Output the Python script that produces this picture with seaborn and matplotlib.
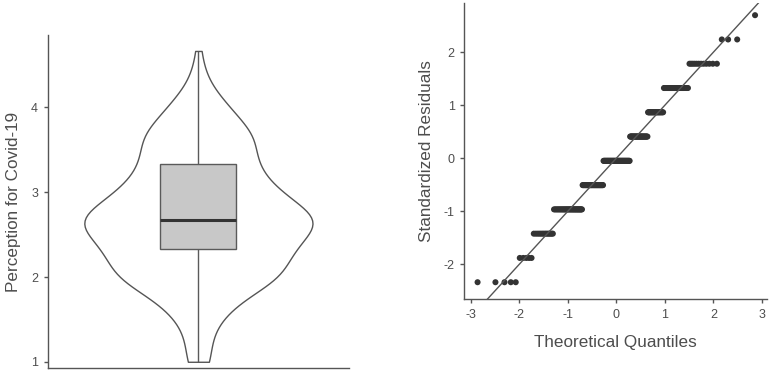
import numpy as np
import pandas as pd
import matplotlib
matplotlib.use("Agg")
import matplotlib.pyplot as plt
import seaborn as sns
from statistics import NormalDist

# Perception scores (mean of three items) and how many respondents gave each score
score_levels = [1.0, 4/3, 5/3, 2.0, 7/3, 8/3, 3.0, 10/3, 11/3, 4.0, 13/3, 14/3]
score_counts = [5, 5, 13, 34, 36, 51, 31, 22, 23, 12, 3, 1]

y_ticks_left = [1, 2, 3, 4]
qq_ticks_x = [-3, -2, -1, 0, 1, 2, 3]
qq_ticks_y = [-2, -1, 0, 1, 2]

scores = np.repeat(score_levels, score_counts)
df = pd.DataFrame({"Perception for Covid-19": scores})

# Standardized residuals against normal theoretical quantiles
resid = np.sort((scores - scores.mean()) / scores.std(ddof=1))
n = len(resid)
probs = (np.arange(1, n + 1) - 0.5) / n
theo = np.array([NormalDist().inv_cdf(p) for p in probs])
qq = pd.DataFrame({"Theoretical Quantiles": theo, "Standardized Residuals": resid})

sns.set_theme(style="ticks")
plt.rcParams["font.family"] = ["Liberation Sans", "DejaVu Sans"]
plt.rcParams["axes.unicode_minus"] = False

INK = "#555555"
TEXT = "#4d4d4d"

fig = plt.figure(figsize=(7.69, 3.78), dpi=100)
ax1 = fig.add_axes([0.062, 0.027, 0.392, 0.880])
ax2 = fig.add_axes([0.604, 0.209, 0.393, 0.784])

# Left: violin with box plot inside
sns.violinplot(data=df, y="Perception for Covid-19", ax=ax1, cut=0, bw_adjust=0.9,
               inner=None, width=0.757, color="white", linecolor=INK, linewidth=1.0,
               saturation=1)
sns.boxplot(data=df, y="Perception for Covid-19", ax=ax1, width=0.252, color="#c8c8c8",
            linecolor="#5a5a5a", linewidth=1.0, showcaps=False, fliersize=0,
            saturation=1, whis=1.5,
            medianprops={"color": "#333333", "linewidth": 2.2})
ax1.set_xlim(-0.5, 0.5)
ax1.set_ylim(0.929, 4.853)
ax1.set_yticks(y_ticks_left)
ax1.set_xticks([])
ax1.set_xlabel("")
ax1.set_ylabel("Perception for Covid-19", fontsize=12.3, color=TEXT, labelpad=7)
sns.despine(ax=ax1)

# Right: normal Q-Q plot of residuals
sns.scatterplot(data=qq, x="Theoretical Quantiles", y="Standardized Residuals", ax=ax2,
                color="#333333", s=19, edgecolor="none", linewidth=0)
lim = np.array([-3.5, 3.5])
ax2.plot(lim, lim, color=INK, linewidth=1.0, zorder=1)
ax2.set_xlim(-3.13, 3.10)
ax2.set_ylim(-2.655, 2.936)
ax2.set_xticks(qq_ticks_x)
ax2.set_yticks(qq_ticks_y)
ax2.set_xlabel("Theoretical Quantiles", fontsize=12.3, color=TEXT, labelpad=10)
ax2.set_ylabel("Standardized Residuals", fontsize=12.3, color=TEXT, labelpad=7)
sns.despine(ax=ax2)

for ax in (ax1, ax2):
    for sp in ("left", "bottom"):
        ax.spines[sp].set_color(INK)
        ax.spines[sp].set_linewidth(1.0)
    ax.tick_params(colors=INK, labelcolor=TEXT, labelsize=9, length=3, width=1, pad=4)

fig.savefig("out.png", dpi=100)
